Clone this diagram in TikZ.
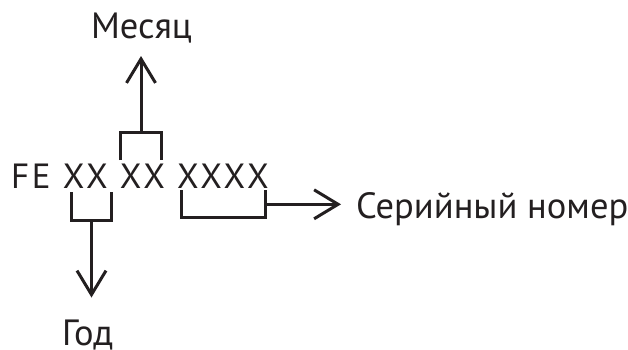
\documentclass[tikz,border=0pt]{standalone}
\usepackage{fontspec}
\setmainfont{PT Sans}
\usetikzlibrary{arrows.meta}
\definecolor{ink}{HTML}{231F20}
\tikzset{
  lbl/.style={inner sep=0pt, outer sep=0pt, text=ink, font=\fontsize{36.5}{40}\selectfont},
  brk/.style={draw=ink, line width=3pt, line cap=butt, line join=miter},
  arr/.style={draw=ink, line width=3pt, -{Straight Barb[length=24pt,width=29pt,line width=3pt]}},
}
\begin{document}
\begin{tikzpicture}[x=1pt,y=-1pt]
\useasboundingbox (0,0) rectangle (628,349);
\fill[white] (0,0) rectangle (628,349);
% main code
\node[lbl, anchor=base west, font=\fontsize{35}{40}\selectfont\addfontfeature{LetterSpace=8}] (code) at (11,188.3) {FE XX XX XXXX};
% labels
\node[lbl, anchor=base] (month) at (141.5,38.3) {Месяц};
\node[lbl, anchor=base west] (year) at (62,345) {Год};
\node[lbl, anchor=base west] (serial) at (356,218.3) {Серийный номер};
% month bracket
\coordinate (mL) at (120.7,160);
\coordinate (mR) at (161.3,160);
\coordinate (mC) at (141,132.3);
\coordinate (mT) at (141,56);
\draw[brk] (mL) |- (mR |- mC) -- (mR);
\draw[arr] (mC) -- (mT);
% year bracket
\coordinate (yL) at (71.5,192.3);
\coordinate (yR) at (111.5,192.3);
\coordinate (yC) at (91.5,220.5);
\coordinate (yB) at (91.5,297.5);
\draw[brk] (yL) |- (yR |- yC) -- (yR);
\draw[arr] (yC) -- (yB);
% serial bracket
\coordinate (sL) at (181.7,190);
\coordinate (sR) at (265.7,190);
\coordinate (sB) at (223.7,217.3);
\coordinate (sM) at (265.7,204.3);
\coordinate (sT) at (341,204.3);
\draw[brk] (sL) |- (sR |- sB) -- (sR);
\draw[arr] (sM) -- (sT);
\end{tikzpicture}
\end{document}
